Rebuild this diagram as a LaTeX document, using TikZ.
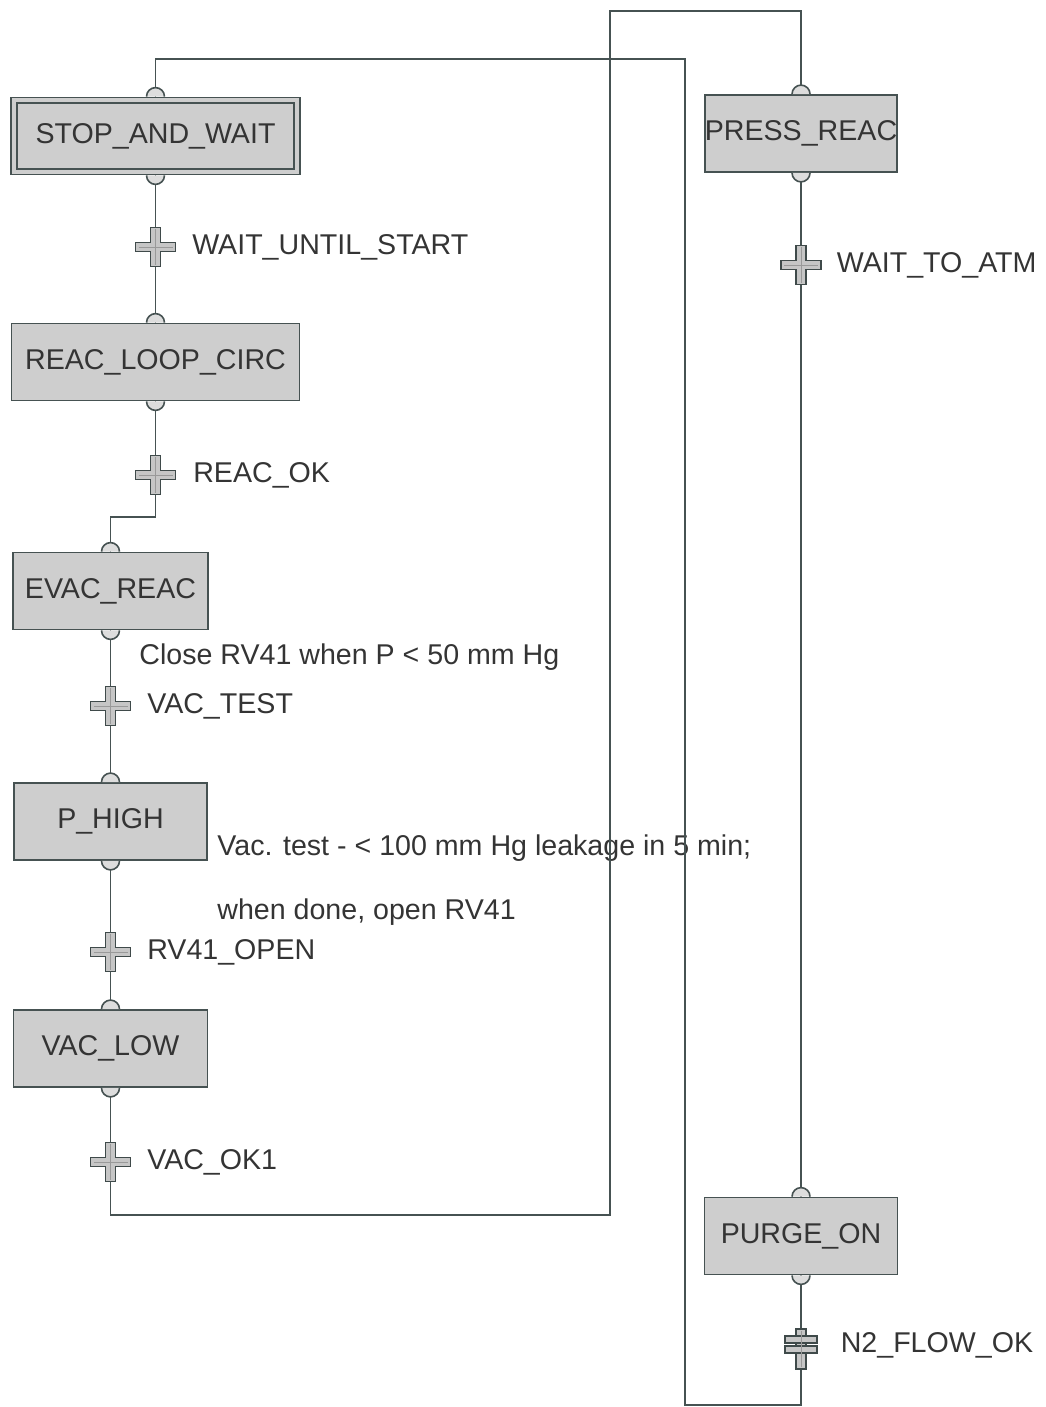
\documentclass[tikz,border=0pt]{standalone}
\usepackage{fontspec}
\setmainfont{Liberation Sans}
\usetikzlibrary{positioning}

\definecolor{wirecol}{RGB}{70,82,82}
\definecolor{boxfill}{RGB}{206,206,206}
\definecolor{ink}{RGB}{52,52,52}

\begin{document}
\begin{tikzpicture}[x=0.5pt, y=-0.5pt, font=\fontsize{14.3}{16}\selectfont, text=ink,
  stepbox/.style={draw=wirecol, fill=boxfill, line width=0.9pt, minimum height=38.5pt, inner sep=0pt, align=center},
  port/.style={draw=wirecol, fill=boxfill!70, line width=0.8pt},
  trans/.style={inner sep=0pt, minimum size=0pt},
  bar/.style={draw=wirecol!90!black, fill=gray!45, line width=0.8pt},
  lab/.style={anchor=west, inner sep=0pt},
  note/.style={anchor=west, inner sep=0pt},
  link/.style={draw=wirecol, line width=0.9pt}]
\useasboundingbox (0,0) rectangle (1045,1407);

% steps
\node[stepbox, minimum width=144.5pt] (saw) at (155.5,136) {STOP\_AND\_WAIT};
\draw[wirecol, line width=0.9pt] ([shift={(3.3pt,-3.3pt)}]saw.north west) rectangle ([shift={(-3.3pt,3.3pt)}]saw.south east);
\node[stepbox, minimum width=144pt] (rlc) at (155.5,362) {REAC\_LOOP\_CIRC};
\node[stepbox, minimum width=97.5pt] (evac) at (110.5,591) {EVAC\_REAC};
\node[stepbox, minimum width=96.5pt] (phigh) at (110.5,821.5) {P\_HIGH};
\node[stepbox, minimum width=97pt] (vlow) at (110.5,1048.5) {VAC\_LOW};
\node[stepbox, minimum width=96pt] (press) at (801,133.5) {PRESS\_REAC};
\node[stepbox, minimum width=96.5pt] (purge) at (801,1236) {PURGE\_ON};

% transitions
\node[trans] (t1) at (155.5,247) {};
\node[trans] (t2) at (155.5,475) {};
\node[trans] (t3) at (110.5,706) {};
\node[trans] (t4) at (110.5,952) {};
\node[trans] (t5) at (110.5,1162) {};
\node[trans] (t6) at (801,265) {};
\node[trans] (t7) at (801,1345) {};
\node[lab, right=18pt of t1] (t1l) {WAIT\_UNTIL\_START};
\node[lab, right=18.5pt of t2] (t2l) {REAC\_OK};
\node[lab, right=18pt of t3] (t3l) {VAC\_TEST};
\node[lab, right=18pt of t4] (t4l) {RV41\_OPEN};
\node[lab, right=18pt of t5] (t5l) {VAC\_OK1};
\node[lab, right=17.5pt of t6] (t6l) {WAIT\_TO\_ATM};
\node[lab, right=19.5pt of t7] (t7l) {N2\_FLOW\_OK};

% comments
\node[note] (n1) at (139,657) {Close RV41 when P < 50 mm Hg};
\node[note] (n2) at (217,848) {Vac. test - < 100 mm Hg leakage in 5 min;};
\node[note] (n3) at (217,912) {when done, open RV41};

% bends
\coordinate (j1) at (155.5,517);
\coordinate (c1) at (610,1215);
\coordinate (c2) at (610,11);
\coordinate (c3) at (685,1405);
\coordinate (c4) at (685,59);

\draw[link] (saw.south) -- (t1) -- (rlc.north);
\draw[link] (rlc.south) -- (t2) -- (j1) -| (evac.north);
\draw[link] (evac.south) -- (t3) -- (phigh.north);
\draw[link] (phigh.south) -- (t4) -- (vlow.north);
\draw[link] (vlow.south) -- (t5) |- (c1) -- (c2) -| (press.north);
\draw[link] (press.south) -- (t6) -- (purge.north);
\draw[link] (purge.south) -- (t7) |- (c3) -- (c4) -| (saw.north);

% ports
\foreach \n in {saw,rlc,evac,phigh,vlow,press,purge} {
  \draw[port] (\n.north) ++(-4.5pt,0) arc[start angle=180, end angle=0, radius=4.5pt];
  \draw[port] (\n.south) ++(-4.5pt,0) arc[start angle=180, end angle=360, radius=4.5pt];
}

% crosses
\foreach \t in {t1,t2,t3,t4,t5,t6} {
  \draw[bar] (\t) ++(-20,-4.5) -- ++(15,0) -- ++(0,-15) -- ++(10,0) -- ++(0,15) -- ++(15,0)
    -- ++(0,9) -- ++(-15,0) -- ++(0,15) -- ++(-10,0) -- ++(0,-15) -- ++(-15,0) -- cycle;
  \draw[gray!80, line width=0.4pt] (\t) ++(0,-18) -- ++(0,36);
  \draw[gray!80, line width=0.4pt] (\t) ++(-17,0) -- ++(34,0);
}
\draw[bar] (t7) ++(-5,-16) rectangle ++(10,40);
\draw[bar] (t7) ++(-16,-9) rectangle ++(32,7);
\draw[bar] (t7) ++(-16,1) rectangle ++(32,7);
\draw[gray!80, line width=0.4pt] (t7) ++(0,-14) -- ++(0,36);
\end{tikzpicture}
\end{document}
